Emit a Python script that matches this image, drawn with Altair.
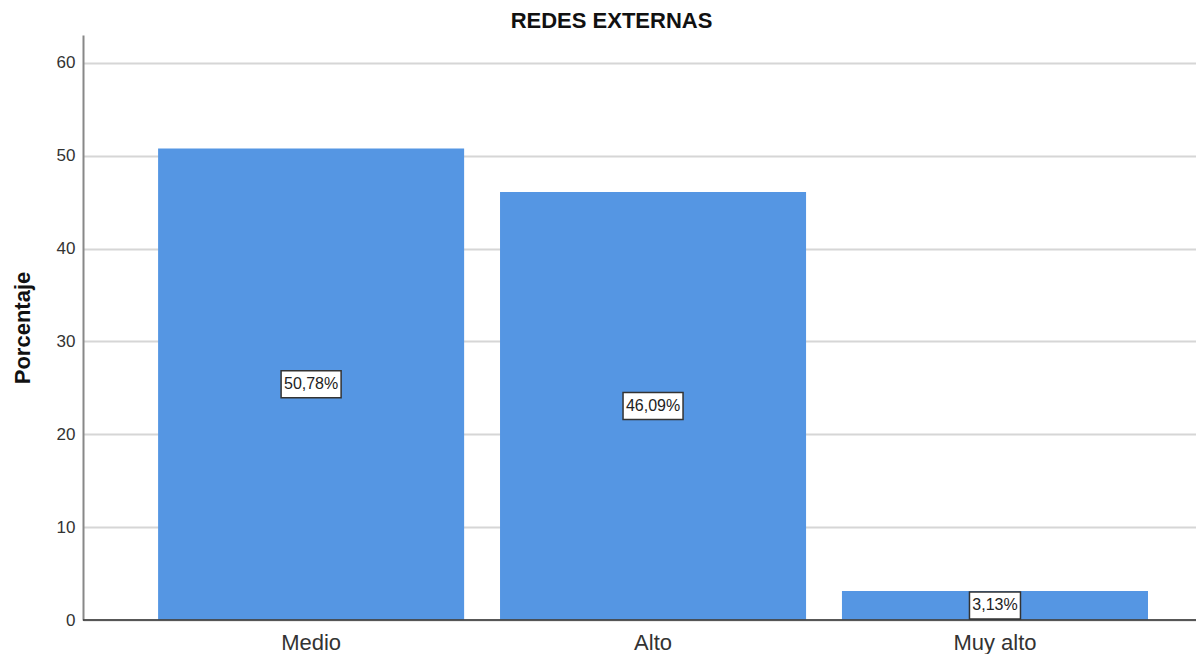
import altair as alt
import pandas as pd

categories = ["Medio", "Alto", "Muy alto"]
values = [50.78, 46.09, 3.13]
labels = ["50,78%", "46,09%", "3,13%"]
y_ticks = [0, 10, 20, 30, 40, 50, 60]

df = pd.DataFrame({"cat": categories, "val": values, "lab": labels})

FONT = "Liberation Sans"
BAR = "#5596e3"

x_enc = alt.X(
    "cat:N",
    sort=categories,
    title=None,
    scale=alt.Scale(paddingInner=0.105, paddingOuter=0.18, align=0.61),
    axis=alt.Axis(
        labelAngle=0, labelFontSize=22, labelColor="#333333", labelFont=FONT,
        ticks=False, domain=False, labelPadding=12,
    ),
)
y_scale = alt.Scale(domain=[0, 63], nice=False)

bars = alt.Chart(df).mark_bar(color=BAR).encode(
    x=x_enc,
    y=alt.Y(
        "val:Q",
        scale=y_scale,
        title="Porcentaje",
        axis=alt.Axis(
            values=y_ticks, ticks=False, labelFontSize=17, labelColor="#333333",
            labelFont=FONT, labelPadding=8, domainColor="#888888", domainWidth=2,
            gridColor="#d6d6d6", gridWidth=2, titleFont=FONT, titleFontSize=22,
            titleFontWeight="bold", titleColor="#111111", titlePadding=22,
        ),
    ),
)

base_line = alt.Chart(df).mark_rule(color="#444444", strokeWidth=1.2).encode(
    y=alt.datum(0)
)

wide_box = "M-1,-0.45L1,-0.45L1,0.45L-1,0.45Z"
narrow_box = "M-0.85,-0.45L0.85,-0.45L0.85,0.45L-0.85,0.45Z"

boxes = alt.Chart(df).transform_calculate(mid="datum.val / 2").mark_point(
    filled=True, fill="white", stroke="#333333", strokeWidth=1.5, opacity=1, size=3600
).encode(
    x=alt.X("cat:N", sort=categories),
    y=alt.Y("mid:Q", scale=y_scale),
    shape=alt.condition("length(datum.lab) > 5", alt.value(wide_box), alt.value(narrow_box)),
)

texts = alt.Chart(df).transform_calculate(mid="datum.val / 2").mark_text(
    font=FONT, fontSize=16, color="#222222", baseline="middle", align="center"
).encode(
    x=alt.X("cat:N", sort=categories),
    y=alt.Y("mid:Q", scale=y_scale),
    text="lab:N",
)

chart = alt.layer(bars, base_line, boxes, texts).properties(
    width=1113,
    height=585,
    autosize=alt.AutoSizeParams(type="none"),
    padding={"left": 75, "top": 27, "right": 0, "bottom": 34},
    title=alt.TitleParams(
        "REDES EXTERNAS", font=FONT, fontSize=22, fontWeight="bold",
        color="#111111", anchor="middle", dx=-28, offset=2,
    ),
).configure_view(stroke=None).configure_axis(labelFont=FONT)

chart.save("out.html", embed_options={"renderer": "svg", "actions": False})
